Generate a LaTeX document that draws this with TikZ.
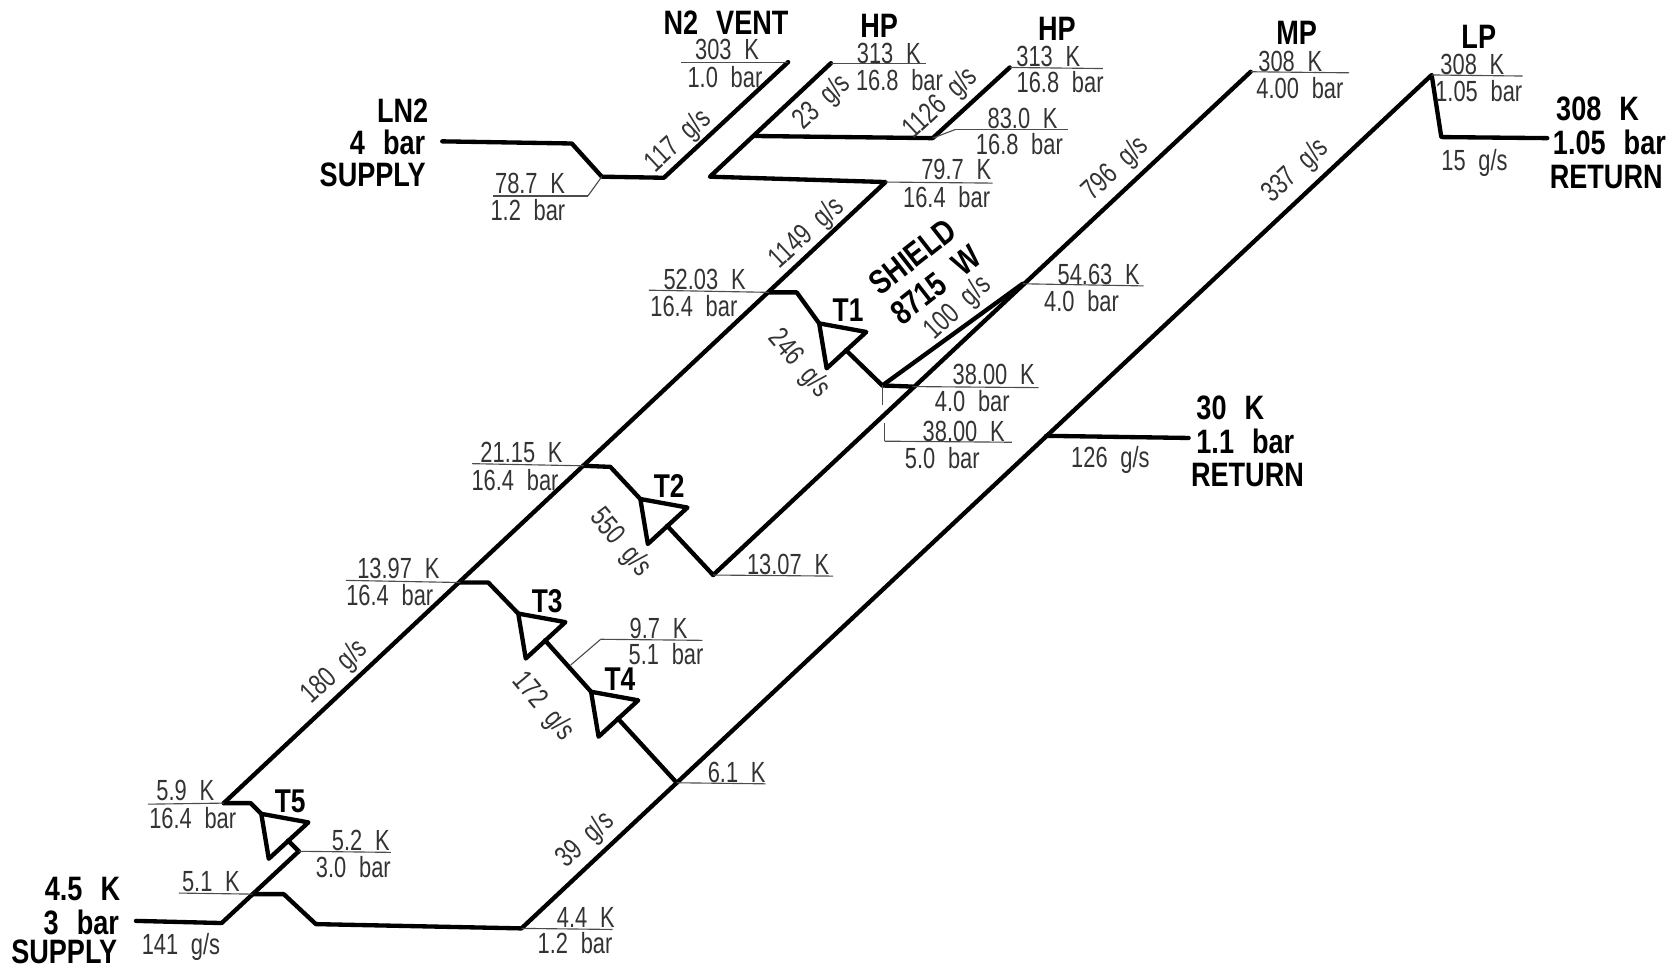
\documentclass[tikz,border=0pt]{standalone}
\usepackage{fontspec}
\setmainfont[FakeStretch=0.8,WordSpace=2.4]{Liberation Sans}
\newfontfamily\datofont[FakeStretch=0.75,WordSpace=2.1]{Liberation Sans}
\begin{document}
\begin{tikzpicture}[x=0.02cm, y=-0.02cm,
    grueso/.style={line width=2.3pt, line join=round, line cap=round},
    fino/.style={line width=0.6pt, black!70},
    dato/.style={inner sep=0pt, black!80, font=\datofont\fontsize{15.5}{16}\selectfont},
    caudal/.style={dato, rotate=43},
    bajada/.style={dato, rotate=-50},
    titulo/.style={inner sep=0pt, font=\fontsize{18}{19}\selectfont\bfseries},
    etapa/.style={titulo, font=\fontsize{17.5}{18}\selectfont\bfseries}]

    \useasboundingbox (0,0) rectangle (1568,904);

    % #1 = nombre, #2 = esquina de entrada, #3 = etiqueta
    \newcommand{\turbina}[3]{%
        \begin{scope}[shift={(#2)}]
            \coordinate (#1e) at (0,0);
            \coordinate (#1a) at (44,8);
            \coordinate (#1b) at (7,42);
            \coordinate (#1s) at (25,25);
            \draw[grueso] (#1e) -- (#1a) -- (#1b) -- cycle;
            \node[etapa] (#1) at (27,-12) {#3};
        \end{scope}}
    % #1 = nombre del extremo, #2 = punto de partida, #3 = extremo
    \newcommand{\lider}[3]{%
        \coordinate (#1) at (#3);
        \draw[fino] (#2) -- (#1);}

    % puntos de los circuitos
    \coordinate (ln) at (413,132);
    \coordinate (ln1) at (534,134);
    \coordinate (ln2) at (562,165);
    \coordinate (ln3) at (620,166);
    \coordinate (vent) at (736,58);
    \coordinate (hp1) at (776,59);
    \coordinate (hp2) at (943,63);
    \coordinate (cruce) at (705,127);
    \coordinate (cruce2) at (871,129);
    \coordinate (vuelta) at (663,165);
    \coordinate (a79) at (827,170);
    \coordinate (a52) at (718,273);
    \coordinate (a21) at (545,435);
    \coordinate (a13) at (430,544);
    \coordinate (a59) at (209,750);
    \coordinate (mp) at (1168,67);
    \coordinate (m54) at (955,265);
    \coordinate (m38) at (852,361);
    \coordinate (s38) at (824,360);
    \coordinate (m13) at (666,537);
    \coordinate (lp) at (1337,70);
    \coordinate (lp1) at (1346,128);
    \coordinate (lp2) at (1445,129);
    \coordinate (r30) at (977,407);
    \coordinate (r30f) at (1110,409);
    \coordinate (r61) at (632,731);
    \coordinate (r44) at (487,867);
    \coordinate (b1) at (295,863);
    \coordinate (b2) at (265,835);
    \coordinate (b51) at (236,835);
    \coordinate (s52) at (279,795);
    \coordinate (s45) at (207,862);
    \coordinate (s45f) at (127,860);

    \turbina{tuno}{765,302}{T1}
    \turbina{tdos}{598,466}{T2}
    \turbina{ttres}{484,573}{T3}
    \turbina{tcuatro}{552,646}{T4}
    \turbina{tcinco}{244,760}{T5}

    % corrientes
    \draw[grueso] (ln) -- (ln1) -- (ln2) -- (ln3) -- (vent);
    \draw[grueso] (hp1) -- (vuelta) -- (a79) -- (a59);
    \draw[grueso] (cruce) -- (cruce2) -- (hp2);
    \draw[grueso] (mp) -- (m13);
    \draw[grueso] (lp2) -- (lp1) -- (lp) -- (r44) -- (b1) -- (b2) -- (b51);
    \draw[grueso] (r30) -- (r30f);
    \draw[grueso] (s52) -- (s45) -- (s45f);
    \draw[grueso] (a52) -- (744,273) -- (tunoe);
    \draw[grueso] (tunos) -- (s38) -- (m38);
    \draw[grueso] (s38) -- (m54);
    \draw[grueso] (a21) -- (570,436) -- (tdose);
    \draw[grueso] (tdoss) -- (m13);
    \draw[grueso] (a13) -- (456,544) -- (ttrese);
    \draw[grueso] (ttress) -- (tcuatroe);
    \draw[grueso] (tcuatros) -- (r61);
    \draw[grueso] (a59) -- (234,750) -- (tcincoe);
    \draw[grueso] (tcincos) -- (s52);

    % lineas de datos
    \lider{lvent}{vent}{636,58}
    \lider{lhp1}{hp1}{865,59}
    \lider{lhp2}{hp2}{1030,64}
    \lider{lmp}{mp}{1260,68}
    \lider{llp}{lp}{1422,71}
    \lider{l79}{a79}{927,171}
    \lider{l52}{a52}{606,271}
    \lider{l21}{a21}{441,433}
    \lider{l13}{a13}{323,542}
    \lider{l59}{a59}{138,751}
    \lider{l54}{m54}{1068,267}
    \lider{l38}{m38}{970,362}
    \lider{l13b}{m13}{778,538}
    \lider{l61}{r61}{715,732}
    \lider{l44}{r44}{572,868}
    \lider{l52b}{s52}{365,796}
    \lider{l51}{b51}{167,834}
    \lider{ttick}{s38}{824,378}
    \coordinate (q83) at (892,121);
    \lider{l83}{q83}{997,121}
    \draw[fino] (cruce2) -- (q83);
    \coordinate (q78) at (549,183);
    \lider{l78}{q78}{460,183}
    \draw[fino] (ln2) -- (q78);
    \coordinate (q97) at (561,597);
    \lider{l97}{q97}{656,598}
    \coordinate (q97b) at (533,621);
    \draw[fino] (q97b) -- (q97);
    \coordinate (q50) at (826,395);
    \coordinate (q50b) at (826,412);
    \lider{l50}{q50b}{945,413}
    \draw[fino] (q50) -- (q50b);

    % titulos
    \node[titulo] (tln) at (376,103) {LN2};
    \node[titulo] (tln2) at (362,133) {4 bar};
    \node[titulo] (tln3) at (348,163) {SUPPLY};
    \node[titulo] (tvent) at (678,21) {N2 VENT};
    \node[titulo] (thp1) at (821,24) {HP};
    \node[titulo] (thp2) at (987,27) {HP};
    \node[titulo] (tmp) at (1211,31) {MP};
    \node[titulo] (tlp) at (1381,34) {LP};
    \node[titulo] (tr1) at (1492,102) {308 K};
    \node[titulo] (tr2) at (1503,133) {1.05 bar};
    \node[titulo] (tr3) at (1500,165) {RETURN};
    \node[titulo] (tm1) at (1149,381) {30 K};
    \node[titulo] (tm2) at (1163,412) {1.1 bar};
    \node[titulo] (tm3) at (1165,444) {RETURN};
    \node[titulo] (ts1) at (77,830) {4.5 K};
    \node[titulo] (ts2) at (76,861) {3 bar};
    \node[titulo] (ts3) at (60,889) {SUPPLY};
    \node[titulo, rotate=38] (tshield) at (852,240) {SHIELD};
    \node[titulo, rotate=38] (tshield2) at (874,266) {8715 W};

    % temperaturas y presiones
    \node[dato] (d303) at (679,46) {303 K};
    \node[dato] (d10) at (677,72) {1.0 bar};
    \node[dato] (d313) at (830,50) {313 K};
    \node[dato] (d168) at (840,75) {16.8 bar};
    \node[dato] (d313b) at (979,53) {313 K};
    \node[dato] (d168b) at (990,77) {16.8 bar};
    \node[dato] (d83) at (955,111) {83.0 K};
    \node[dato] (d168c) at (952,135) {16.8 bar};
    \node[dato] (d79) at (893,158) {79.7 K};
    \node[dato] (d164) at (884,184) {16.4 bar};
    \node[dato] (d78) at (495,171) {78.7 K};
    \node[dato] (d12) at (493,196) {1.2 bar};
    \node[dato] (d52) at (658,261) {52.03 K};
    \node[dato] (d164b) at (648,286) {16.4 bar};
    \node[dato] (d21) at (487,423) {21.15 K};
    \node[dato] (d164c) at (481,448) {16.4 bar};
    \node[dato] (d13) at (372,531) {13.97 K};
    \node[dato] (d164d) at (364,556) {16.4 bar};
    \node[dato] (d59) at (173,738) {5.9 K};
    \node[dato] (d164e) at (180,764) {16.4 bar};
    \node[dato] (d308) at (1205,57) {308 K};
    \node[dato] (d400) at (1214,82) {4.00 bar};
    \node[dato] (d308b) at (1375,60) {308 K};
    \node[dato] (d105) at (1381,85) {1.05 bar};
    \node[dato] (d54) at (1026,256) {54.63 K};
    \node[dato] (d40) at (1010,281) {4.0 bar};
    \node[dato] (d38) at (928,350) {38.00 K};
    \node[dato] (d40b) at (908,375) {4.0 bar};
    \node[dato] (d38b) at (900,403) {38.00 K};
    \node[dato] (d50) at (880,428) {5.0 bar};
    \node[dato] (d13b) at (736,527) {13.07 K};
    \node[dato] (d97) at (615,587) {9.7 K};
    \node[dato] (d51) at (622,611) {5.1 bar};
    \node[dato] (d61) at (688,721) {6.1 K};
    \node[dato] (d44) at (547,857) {4.4 K};
    \node[dato] (d12b) at (537,881) {1.2 bar};
    \node[dato] (d52b) at (337,785) {5.2 K};
    \node[dato] (d30) at (330,810) {3.0 bar};
    \node[dato] (d51b) at (197,823) {5.1 K};

    % caudales
    \node[caudal] (c117) at (634,132) {117 g/s};
    \node[caudal] (c23) at (768,96) {23 g/s};
    \node[caudal] (c1126) at (879,97) {1126 g/s};
    \node[caudal] (c1149) at (754,218) {1149 g/s};
    \node[caudal] (c796) at (1042,158) {796 g/s};
    \node[caudal] (c337) at (1210,160) {337 g/s};
    \node[caudal] (c100) at (895,288) {100 g/s};
    \node[caudal] (c180) at (313,628) {180 g/s};
    \node[caudal] (c39) at (547,785) {39 g/s};
    \node[bajada] (c246) at (746,340) {246 g/s};
    \node[bajada] (c550) at (579,507) {550 g/s};
    \node[bajada] (c172) at (507,660) {172 g/s};
    \node[dato] (c126) at (1037,430) {126 g/s};
    \node[dato] (c15) at (1377,152) {15 g/s};
    \node[dato] (c141) at (169,884) {141 g/s};

\end{tikzpicture}
\end{document}
